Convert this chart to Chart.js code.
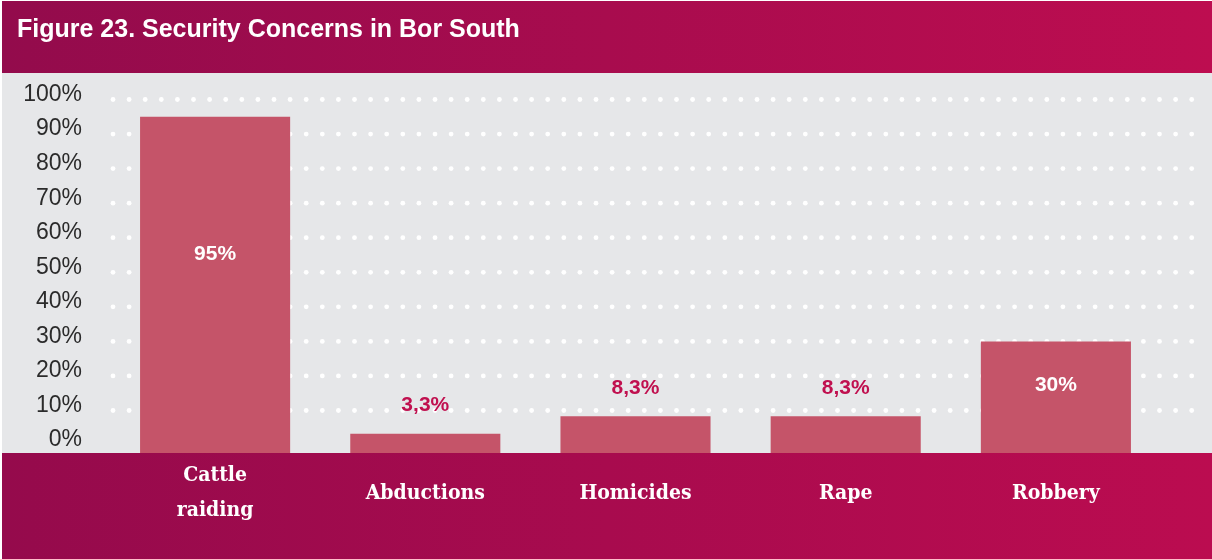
<!DOCTYPE html>
<html>
<head>
<meta charset="utf-8">
<title>Security Concerns in Bor South</title>
<script src="https://cdn.jsdelivr.net/npm/chart.js@4/dist/chart.umd.min.js"></script>
<style>
  html, body { margin: 0; padding: 0; background: #fff; }
  #concerns { display: block; }
</style>
</head>
<body>
<canvas id="concerns" width="1212" height="559"></canvas>
<script>
const categories = [['Cattle', 'raiding'], 'Abductions', 'Homicides', 'Rape', 'Robbery'];
const shares = [95, 3.3, 8.3, 8.3, 30];
const yTicks = [0, 10, 20, 30, 40, 50, 60, 70, 80, 90, 100];
const title = 'Figure 23. Security Concerns in Bor South';

const yMin = -2.3;
const headerBottom = 73;
const bandTop = 453;

const pct = v => String(v).replace('.', ',') + '%';

// header with title, grey plot panel, bottom band and dotted grid rows
const backdrop = {
    id: 'backdrop',
    beforeDraw(chart) {
        const { ctx, width, height, chartArea, scales } = chart;
        ctx.save();
        ctx.fillStyle = '#fff';
        ctx.fillRect(0, 0, width, height);

        let g = ctx.createLinearGradient(0, 0, width, 0);
        g.addColorStop(0, '#930b4c');
        g.addColorStop(1, '#bd0d50');
        ctx.fillStyle = g;
        ctx.fillRect(2, 1, width - 2, headerBottom - 1);

        ctx.fillStyle = '#fff';
        ctx.font = 'bold 25px "Liberation Sans Narrow", "Liberation Sans", Arial, sans-serif';
        ctx.textBaseline = 'middle';
        ctx.fillText(title, 17, 30);

        ctx.fillStyle = '#e6e7e9';
        ctx.fillRect(2, headerBottom, width - 2, bandTop - headerBottom);

        g = ctx.createLinearGradient(0, 0, width, 0);
        g.addColorStop(0, '#950a4c');
        g.addColorStop(1, '#bb0c50');
        ctx.fillStyle = g;
        ctx.fillRect(2, bandTop, width - 2, height - bandTop);

        ctx.fillStyle = '#fff';
        const x0 = chartArea.left + 3, x1 = width - 17, step = 16.1;
        yTicks.filter(t => t > 0).forEach(t => {
            const y = scales.y.getPixelForValue(t);
            for (let x = x0; x <= x1; x += step) {
                ctx.beginPath();
                ctx.arc(x, y, 2.4, 0, Math.PI * 2);
                ctx.fill();
            }
        });
        ctx.restore();
    }
};

// value labels: inside tall bars, above short ones
const valueLabels = {
    id: 'valueLabels',
    afterDatasetsDraw(chart) {
        const { ctx, scales } = chart;
        const meta = chart.getDatasetMeta(0);
        ctx.save();
        ctx.font = 'bold 21px "Liberation Sans", Arial, sans-serif';
        ctx.textAlign = 'center';
        ctx.textBaseline = 'middle';
        meta.data.forEach((bar, i) => {
            const v = shares[i];
            if (v >= 20) {
                ctx.fillStyle = '#fff';
                ctx.fillText(pct(v), bar.x, scales.y.getPixelForValue(v * 0.58));
            } else {
                ctx.fillStyle = '#c0104f';
                ctx.fillText(pct(v), bar.x, bar.y - 28);
            }
        });
        ctx.restore();
    }
};

new Chart(document.getElementById('concerns'), {
    type: 'bar',
    data: {
        labels: categories,
        datasets: [{
            data: shares,
            base: yMin,
            backgroundColor: '#c55469',
            barPercentage: 0.714,
            categoryPercentage: 1
        }]
    },
    options: {
        responsive: false,
        devicePixelRatio: 1,
        animation: false,
        layout: { padding: { left: 0, right: 51, top: 99.5, bottom: 0 } },
        plugins: {
            legend: { display: false },
            tooltip: { enabled: false },
            title: { display: false }
        },
        scales: {
            x: {
                grid: { display: false },
                border: { display: false },
                afterFit(scale) { scale.height = 559 - bandTop; },
                ticks: {
                    color: '#fff',
                    padding: 15,
                    crossAlign: 'center',
                    maxRotation: 0,
                    font: { family: '"DejaVu Serif Condensed", "DejaVu Serif", serif', size: 21, weight: 'bold', lineHeight: 1.65 }
                }
            },
            y: {
                min: yMin,
                max: 100,
                grid: { display: false },
                border: { display: false },
                afterFit(scale) { scale.width = 110; },
                afterBuildTicks(scale) {
                    scale.ticks = yTicks.map(v => ({ value: v }));
                },
                ticks: {
                    color: '#2b2b2b',
                    padding: 20,
                    labelOffset: -5,
                    font: { family: '"Liberation Sans", Arial, sans-serif', size: 23 },
                    callback: v => v + '%'
                }
            }
        }
    },
    plugins: [backdrop, valueLabels]
});
</script>
</body>
</html>
